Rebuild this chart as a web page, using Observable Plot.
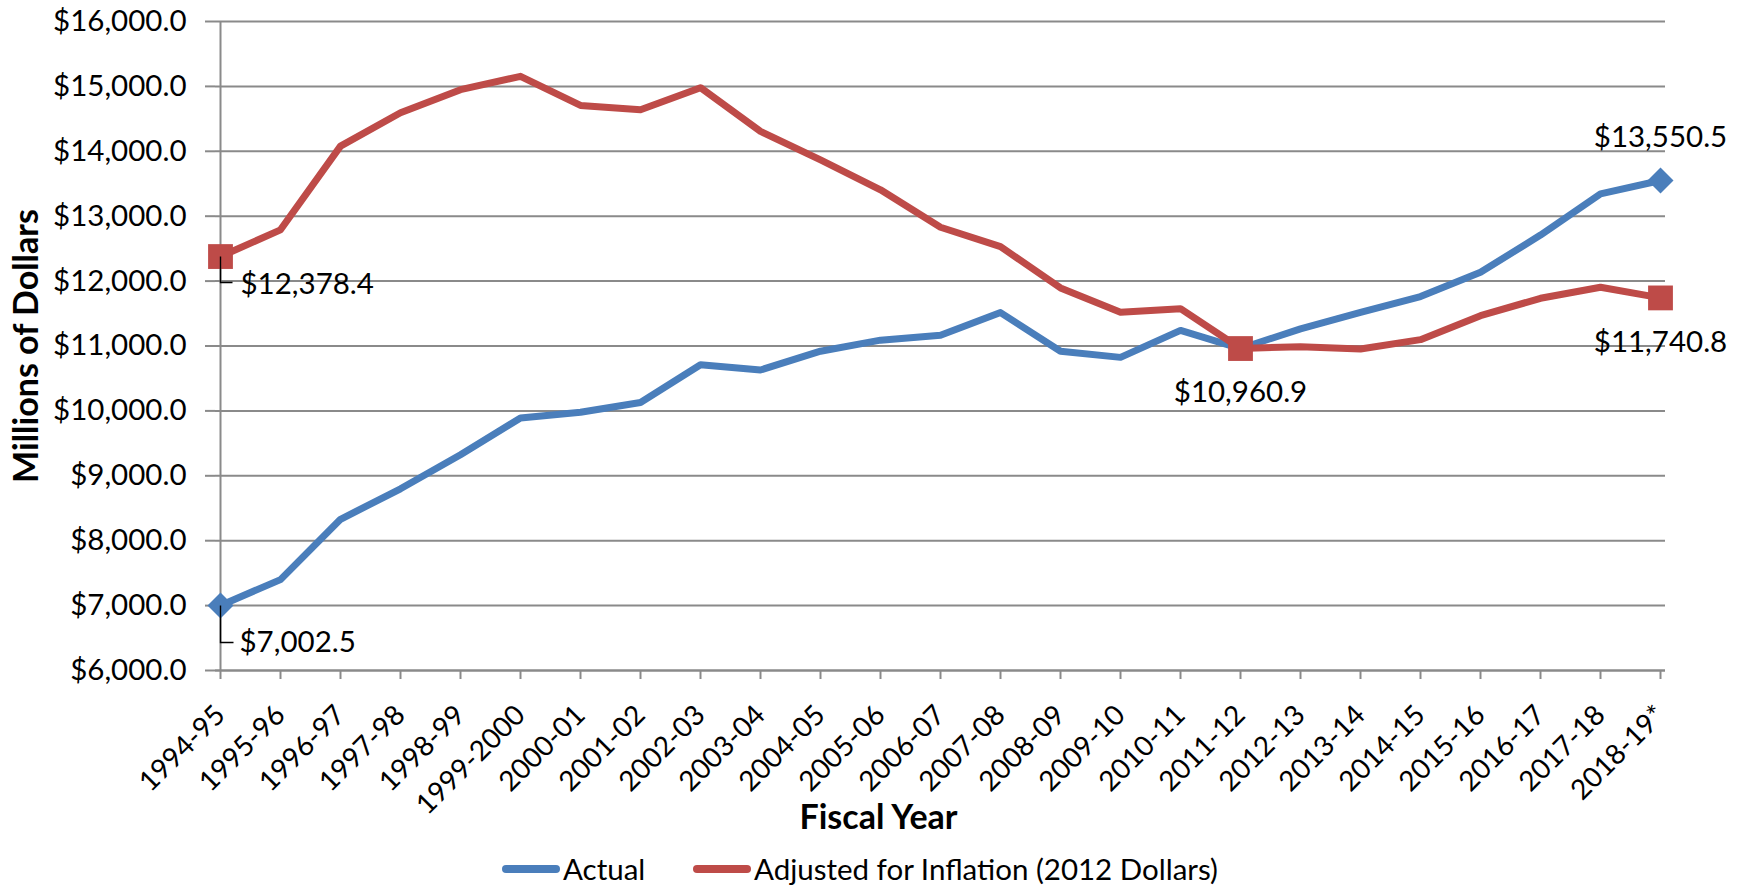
<!DOCTYPE html>
<html>
<head>
<meta charset="utf-8">
<script src="https://cdn.jsdelivr.net/npm/d3@7"></script>
<script src="https://cdn.jsdelivr.net/npm/@observablehq/plot@0.6"></script>
<style>
  html, body { margin: 0; padding: 0; background: #fff; }
  body { width: 1750px; height: 889px; overflow: hidden; font-family: Lato, sans-serif; }
  #chart svg { display: block; }
  .legend { position: relative; height: 41px; font-family: Lato, sans-serif; font-size: 29.5px; color: #000; }
  .legend .item { position: absolute; top: 0; height: 41px; display: flex; align-items: center; white-space: nowrap; }
  .legend .sw { display: inline-block; width: 58px; height: 8px; border-radius: 4px; margin-right: 3px; }
</style>
</head>
<body>
<div id="chart"></div>
<div class="legend">
  <div class="item" style="left:502px"><span class="sw" style="background:#4A7EBB"></span>Actual</div>
  <div class="item" style="left:693px"><span class="sw" style="background:#BE4B48"></span>Adjusted for Inflation (2012 Dollars)</div>
</div>
<script>
// ---- data ----
const categories = ["1994-95","1995-96","1996-97","1997-98","1998-99","1999-2000","2000-01","2001-02","2002-03","2003-04","2004-05","2005-06","2006-07","2007-08","2008-09","2009-10","2010-11","2011-12","2012-13","2013-14","2014-15","2015-16","2016-17","2017-18","2018-19*"];
const actual = [7002.5, 7400, 8330, 8800, 9324, 9890, 9980, 10130, 10712, 10630, 10920, 11090, 11165, 11515, 10920, 10825, 11240, 10960.9, 11265, 11520, 11762, 12135, 12710, 13345, 13550.5];
const adjusted = [12378.4, 12790, 14080, 14595, 14950, 15155, 14707, 14641, 14980, 14306, 13869, 13407, 12830, 12532, 11895, 11519, 11575, 10960.9, 10990, 10954, 11098, 11468, 11735, 11905, 11740.8];
const yTicks = [6000, 7000, 8000, 9000, 10000, 11000, 12000, 13000, 14000, 15000, 16000];
const actualMarked = [0, 24];
const adjustedMarked = [0, 17, 24];
const seriesNames = ["Actual", "Adjusted for Inflation (2012 Dollars)"];
const xTitle = "Fiscal Year";
const yTitle = "Millions of Dollars";

// ---- derived tables ----
const rows = categories.map((c, i) => ({year: c, actual: actual[i], adjusted: adjusted[i]}));
const pick = (arr, key) => arr.map(i => ({year: categories[i], value: rows[i][key]}));
const fmt = d => "$" + d3.format(",.1f")(d);

const BLUE = "#4A7EBB", RED = "#BE4B48", GRID = "#8a8a8a";
const leader = (down, right) => ({draw(ctx) { ctx.moveTo(0, 0); ctx.lineTo(0, down); ctx.lineTo(right, down); }});

const aMarks = pick(actualMarked, "actual");
const rMarks = pick(adjustedMarked, "adjusted");

const chart = Plot.plot({
  width: 1750,
  height: 848,
  marginLeft: 215,
  marginRight: 85,
  marginTop: 21,
  marginBottom: 178,
  style: {fontFamily: "Lato, sans-serif", fontSize: "29.5px", color: "#000", background: "#fff"},
  x: {type: "point", domain: categories, padding: 0},
  y: {domain: [yTicks[0], yTicks[yTicks.length - 1]]},
  marks: [
    Plot.gridY(yTicks, {stroke: GRID, strokeOpacity: 1, strokeWidth: 2}),
    Plot.ruleX([categories[0]], {stroke: GRID, strokeWidth: 2}),
    Plot.ruleY([yTicks[0]], {stroke: GRID, strokeWidth: 2.2}),
    Plot.axisY({ticks: yTicks, tickSize: 10, tickPadding: 19, tickFormat: fmt, label: null, stroke: GRID, strokeWidth: 2, fill: "#000"}),
    Plot.axisX({tickSize: 9, tickFormat: () => "", label: null, stroke: GRID, strokeWidth: 2}),
    Plot.text(categories, {x: d => d, frameAnchor: "bottom", dy: 40, rotate: -45, textAnchor: "end", lineAnchor: "middle", fontSize: 28, fill: "#000"}),
    Plot.text([xTitle], {frameAnchor: "bottom", textAnchor: "middle", lineAnchor: "middle", dx: -62, dy: 148, fontWeight: "bold", fontSize: 34, fill: "#000"}),
    Plot.text([yTitle], {frameAnchor: "left", textAnchor: "middle", lineAnchor: "middle", rotate: -90, dx: -188, fontWeight: "bold", fontSize: 34, fill: "#000"}),
    Plot.line(rows, {x: "year", y: "actual", stroke: BLUE, strokeWidth: 7, strokeLinejoin: "round", strokeLinecap: "round"}),
    Plot.line(rows, {x: "year", y: "adjusted", stroke: RED, strokeWidth: 7, strokeLinejoin: "round", strokeLinecap: "round"}),
    Plot.dot(aMarks, {x: "year", y: "value", symbol: "diamond2", r: 11.7, fill: BLUE, stroke: "none"}),
    Plot.dot(rMarks, {x: "year", y: "value", symbol: "square", r: 14, fill: RED, stroke: "none"}),
    // leader lines for the first-year labels
    Plot.dot([rMarks[0]], {x: "year", y: "value", symbol: leader(26, 12), fill: "none", stroke: "#000", strokeWidth: 1.4}),
    Plot.dot([aMarks[0]], {x: "year", y: "value", symbol: leader(37, 13), fill: "none", stroke: "#000", strokeWidth: 1.4}),
    // data labels
    Plot.text([rMarks[0]], {x: "year", y: "value", text: d => fmt(d.value), textAnchor: "start", lineAnchor: "middle", dx: 20, dy: 28, fill: "#000"}),
    Plot.text([aMarks[0]], {x: "year", y: "value", text: d => fmt(d.value), textAnchor: "start", lineAnchor: "middle", dx: 19, dy: 37, fill: "#000"}),
    Plot.text([aMarks[1]], {x: "year", y: "value", text: d => fmt(d.value), lineAnchor: "middle", dy: -43, fill: "#000"}),
    Plot.text([rMarks[1]], {x: "year", y: "value", text: d => fmt(d.value), lineAnchor: "middle", dy: 44, fill: "#000"}),
    Plot.text([rMarks[2]], {x: "year", y: "value", text: d => fmt(d.value), lineAnchor: "middle", dy: 45, fill: "#000"})
  ]
});
document.getElementById("chart").appendChild(chart);
</script>
</body>
</html>
